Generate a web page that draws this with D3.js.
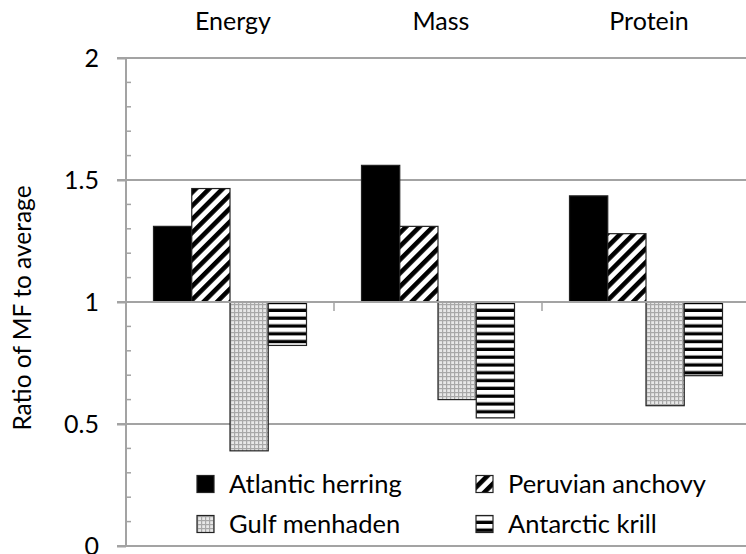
<!DOCTYPE html>
<html>
<head>
<meta charset="utf-8">
<script src="https://cdn.jsdelivr.net/npm/d3@7/dist/d3.min.js"></script>
<style>
  html, body { margin: 0; padding: 0; background: #fff; }
  svg { display: block; }
  text { font-family: Lato, "Open Sans", sans-serif; fill: #000; }
</style>
</head>
<body>
<svg id="chart" width="746" height="554"></svg>
<script>
// ---- data ----
const categories = ["Energy", "Mass", "Protein"];
const series = ["Atlantic herring", "Peruvian anchovy", "Gulf menhaden", "Antarctic krill"];
const herring  = [1.31, 1.56, 1.435];
const anchovy  = [1.465, 1.31, 1.28];
const menhaden = [0.39, 0.60, 0.575];
const krill    = [0.822, 0.525, 0.698];
const yTicks = [0, 0.5, 1, 1.5, 2];
const yLabel = "Ratio of MF to average";

const values = [herring, anchovy, menhaden, krill];

const svg = d3.select("#chart");
const defs = svg.append("defs");

// patterns
const hatch = defs.append("pattern").attr("id", "hatch")
  .attr("patternUnits", "userSpaceOnUse").attr("width", 9.5).attr("height", 9.5)
  .attr("patternTransform", "rotate(45)");
hatch.append("rect").attr("width", 9.5).attr("height", 9.5).attr("fill", "#fff");
hatch.append("rect").attr("x", 0).attr("width", 4.6).attr("height", 9.5).attr("fill", "#000");

const dots = defs.append("pattern").attr("id", "dots")
  .attr("patternUnits", "userSpaceOnUse").attr("width", 4).attr("height", 4);
dots.append("rect").attr("width", 4).attr("height", 4).attr("fill", "#e8e8e8");
dots.append("rect").attr("x", 0).attr("y", 0).attr("width", 1.2).attr("height", 4).attr("fill", "#a8a8a8");
dots.append("rect").attr("x", 0).attr("y", 0).attr("width", 4).attr("height", 1.2).attr("fill", "#a8a8a8");

const stripes = defs.append("pattern").attr("id", "stripes")
  .attr("patternUnits", "userSpaceOnUse").attr("width", 8).attr("height", 7.8);
stripes.append("rect").attr("width", 8).attr("height", 7.8).attr("fill", "#fff");
stripes.append("rect").attr("y", 4.5).attr("width", 8).attr("height", 3.3).attr("fill", "#000");

const fills = ["#000", "url(#hatch)", "url(#dots)", "url(#stripes)"];

// scales
const x0 = d3.scaleBand().domain(categories).range([126, 750]).paddingInner(0).paddingOuter(0);
const x1 = d3.scaleBand().domain(series).range([27.5, 180.5]).paddingInner(0);
const y = d3.scaleLinear().domain([0, 2]).range([546, 58]);

const grey = "#a3a3a3";

// gridlines
svg.append("g").selectAll("line").data(yTicks.filter(d => d !== 1)).join("line")
  .attr("x1", 117).attr("x2", 746)
  .attr("y1", d => y(d)).attr("y2", d => y(d))
  .attr("stroke", grey).attr("stroke-width", 2);

// y axis with major ticks + labels
const yAxis = d3.axisLeft(y).tickValues(yTicks).tickSize(9).tickPadding(18).tickFormat(d3.format(""));
const gy = svg.append("g").attr("transform", "translate(126,0)").call(yAxis);
gy.select(".domain").attr("stroke", grey).attr("stroke-width", 2).attr("d", `M0,${y(2)}V${y(0)}`);
gy.selectAll(".tick line").attr("stroke", grey).attr("stroke-width", 2);
gy.selectAll(".tick text").attr("font-family", "Lato, sans-serif").attr("font-size", 25).attr("fill", "#000");

// minor ticks inside
const minor = d3.range(1, 20).map(i => i / 10).filter(v => Math.abs(v * 2 - Math.round(v * 2)) > 1e-6);
svg.append("g").selectAll("line").data(minor).join("line")
  .attr("x1", 126).attr("x2", 131)
  .attr("y1", d => y(d)).attr("y2", d => y(d))
  .attr("stroke", grey).attr("stroke-width", 1.5);

// bars
const gCat = svg.append("g").selectAll("g").data(categories).join("g")
  .attr("transform", c => `translate(${x0(c)},0)`);
gCat.selectAll("rect").data((c, ci) => series.map((s, si) => ({ s, si, v: values[si][ci] }))).join("rect")
  .attr("x", d => x1(d.s))
  .attr("width", x1.bandwidth())
  .attr("y", d => Math.min(y(d.v), y(1)))
  .attr("height", d => Math.abs(y(d.v) - y(1)))
  .attr("fill", d => fills[d.si])
  .attr("stroke", "#222").attr("stroke-width", 1.2);

// x axis at y = 1
svg.append("line").attr("x1", 117).attr("x2", 746).attr("y1", y(1)).attr("y2", y(1))
  .attr("stroke", grey).attr("stroke-width", 2);
const bounds = categories.slice(1).map(c => x0(c));
svg.append("g").selectAll("line").data(bounds).join("line")
  .attr("x1", d => d).attr("x2", d => d)
  .attr("y1", y(1)).attr("y2", y(1) + 9)
  .attr("stroke", grey).attr("stroke-width", 1.5);

// category labels on top
svg.append("g").selectAll("text").data(categories).join("text")
  .attr("x", c => x0(c) + x0.bandwidth() / 2 + 3)
  .attr("y", 30)
  .attr("text-anchor", "middle")
  .attr("font-size", 25)
  .text(c => c);

// y label
svg.append("text")
  .attr("transform", `translate(31,308) rotate(-90)`)
  .attr("text-anchor", "middle")
  .attr("font-size", 24.5)
  .text(yLabel);

// legend
const legendPos = [[197, 484], [476, 484], [197, 524], [476, 524]];
const lg = svg.append("g").selectAll("g").data(series).join("g")
  .attr("transform", (s, i) => `translate(${legendPos[i][0]},${legendPos[i][1]})`);
lg.append("rect").attr("x", 0).attr("y", -8.5).attr("width", 17).attr("height", 17)
  .attr("fill", (s, i) => fills[i]).attr("stroke", "#222").attr("stroke-width", 1.2);
lg.append("text").attr("x", 32).attr("y", 9).attr("font-size", 25.5).text(s => s);
</script>
</body>
</html>
